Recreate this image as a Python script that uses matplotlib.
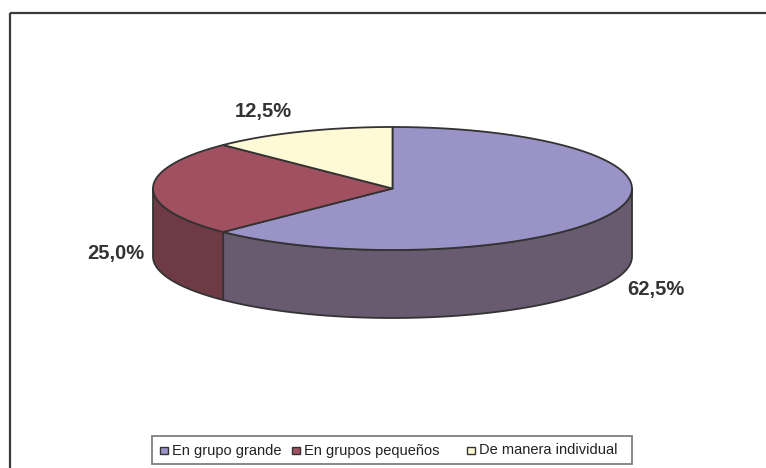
import numpy as np
import matplotlib
matplotlib.use("Agg")
import matplotlib.pyplot as plt
from matplotlib.patches import Polygon, Rectangle

# datos
categorias = ["En grupo grande", "En grupos pequeños", "De manera individual"]
porcentajes = [62.5, 25.0, 12.5]
etiquetas = ["62,5%", "25,0%", "12,5%"]

# colores (cara superior / lateral)
col_top = ["#9a93c7", "#a1505f", "#fffad6"]
col_side = ["#685b70", "#6e3b45", "#b3af96"]
borde = "#333333"

# geometria del pastel (en pixeles)
cx, cy = 392.5, 188.5
a, b = 239.5, 61.5
prof = 68
pos_etiq = [(656, 289), (116, 254), (263, 111)]
leg_x = [160, 292, 467]

fig = plt.figure(figsize=(7.66, 4.68), dpi=100)
ax = fig.add_axes([0, 0, 1, 1])
ax.set_xlim(0, 766)
ax.set_ylim(468, 0)
ax.axis("off")


def punto(t, dy=0):
    r = np.radians(t)
    return cx + a * np.cos(r), cy - b * np.sin(r) + dy


# angulos de cada porcion (inicio a las 12, sentido horario)
frac = np.array(porcentajes) / sum(porcentajes)
fin = 90 - 360 * np.cumsum(frac)
ini = np.concatenate([[90], fin[:-1]])

# paredes laterales visibles (parte frontal: -180..0)
for i in range(len(frac)):
    for desf in (0, 360, -360):
        t0 = max(fin[i] + desf, -180)
        t1 = min(ini[i] + desf, 0)
        if t1 <= t0:
            continue
        ts = np.linspace(t0, t1, 80)
        arriba = [punto(t) for t in ts]
        abajo = [punto(t, prof) for t in ts[::-1]]
        ax.add_patch(Polygon(arriba + abajo, closed=True, facecolor=col_side[i],
                             edgecolor=borde, lw=1.3, joinstyle="round"))

# caras superiores
for i in range(len(frac)):
    ts = np.linspace(ini[i], fin[i], 120)
    pts = [(cx, cy)] + [punto(t) for t in ts]
    ax.add_patch(Polygon(pts, closed=True, facecolor=col_top[i],
                         edgecolor=borde, lw=1.3, joinstyle="round"))

# etiquetas
for (x, y), txt in zip(pos_etiq, etiquetas):
    ax.text(x, y, txt, ha="center", va="center", fontsize=14.5, fontweight="bold",
            family="Liberation Sans", color="#333333")

# marco del grafico
ax.plot([9.5, 766], [12.5, 12.5], color="#3a3a3a", lw=1.6, solid_capstyle="butt")
ax.plot([9.5, 9.5], [12.5, 468], color="#3a3a3a", lw=1.6, solid_capstyle="butt")

# leyenda
ax.add_patch(Rectangle((152, 435.5), 480, 28.5, facecolor="white",
                       edgecolor="#7f7f7f", lw=1.3))
for i, nombre in enumerate(categorias):
    ax.add_patch(Rectangle((leg_x[i], 446.5), 7.5, 7.5, facecolor=col_top[i],
                           edgecolor=borde, lw=1.0))
    ax.text(leg_x[i] + 12, 450.5, nombre, ha="left", va="center", fontsize=10.5,
            family="Liberation Sans", color="#222222")

fig.savefig("out.png", dpi=100)
